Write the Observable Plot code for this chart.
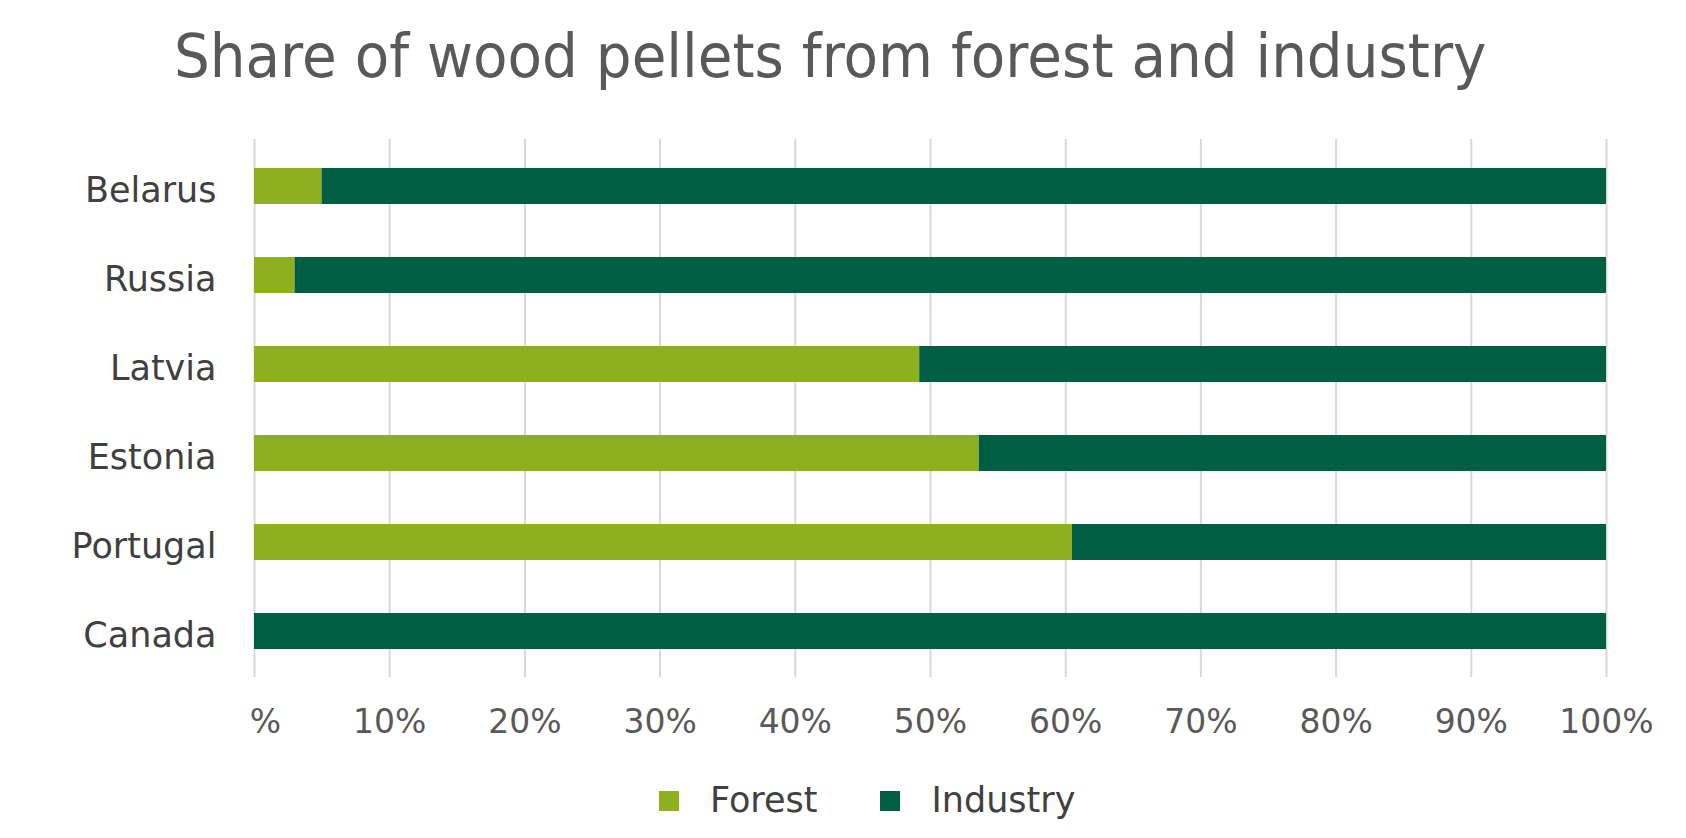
<!DOCTYPE html>
<html>
<head>
<meta charset="utf-8">
<script src="https://cdn.jsdelivr.net/npm/d3@7"></script>
<script src="https://cdn.jsdelivr.net/npm/@observablehq/plot@0.6"></script>
<style>
  html, body { margin: 0; padding: 0; background: #ffffff; }
  body { position: relative; width: 1686px; height: 838px; overflow: hidden; font-family: "DejaVu Sans", sans-serif; }
  #title { position: absolute; top: 26px; left: 174px; font-size: 60px; line-height: 1; color: #595959; white-space: nowrap; transform: scaleX(0.94); transform-origin: 0 0; }
  #chart { position: absolute; top: 120px; left: 0; }
  #legend { position: absolute; top: 760px; left: 659px; height: 78px; display: flex; align-items: flex-start; }
  .item { display: flex; align-items: center; height: 80px; margin-top: 0; }
  .sw { width: 20px; height: 20px; margin-right: 31px; margin-top: 1px; }
  .lab { font-size: 35px; line-height: 35px; color: #404040; margin-right: 63px; }
</style>
</head>
<body>
<div id="title">Share of wood pellets from forest and industry</div>
<div id="chart"></div>
<div id="legend"></div>
<script>
const countries = ["Belarus", "Russia", "Latvia", "Estonia", "Portugal", "Canada"];
const forest = [5, 3, 49.2, 53.6, 60.5, 0];
const industry = [95, 97, 50.8, 46.4, 39.5, 100];
const seriesNames = ["Forest", "Industry"];
const seriesColors = ["#8fb01e", "#005e42"];
const xTicks = [0, 10, 20, 30, 40, 50, 60, 70, 80, 90, 100];

const rows = [];
countries.forEach((c, i) => {
  rows.push({country: c, series: "Forest", value: forest[i]});
  rows.push({country: c, series: "Industry", value: industry[i]});
});

const chart = Plot.plot({
  width: 1686,
  height: 640,
  marginTop: 19,
  marginBottom: 83,
  marginLeft: 254,
  marginRight: 80,
  style: {fontFamily: "DejaVu Sans", background: "transparent"},
  x: {domain: [0, 100], label: null},
  y: {domain: countries, paddingInner: 0.6, paddingOuter: 0.3, label: null},
  color: {domain: seriesNames, range: seriesColors},
  marks: [
    Plot.gridX(xTicks, {stroke: "#d9d9d9", strokeOpacity: 1, strokeWidth: 2}),
    Plot.barX(rows, Plot.stackX({x: "value", y: "country", fill: "series", order: seriesNames})),
    Plot.axisX(xTicks.slice(1), {tickSize: 0, tickPadding: 32, tickFormat: d => d + "%", fontSize: 33, color: "#595959", label: null}),
    Plot.axisX([xTicks[0]], {tickSize: 0, tickPadding: 32, tickFormat: () => "%", dx: 11, fontSize: 33, color: "#595959", label: null}),
    Plot.axisY({tickSize: 0, tickPadding: 38, fontSize: 35, color: "#404040", dy: 4, label: null})
  ]
});
document.getElementById("chart").appendChild(chart);

const legend = document.getElementById("legend");
seriesNames.forEach((name, i) => {
  const item = document.createElement("div");
  item.className = "item";
  const sw = document.createElement("div");
  sw.className = "sw";
  sw.style.background = seriesColors[i];
  const lab = document.createElement("div");
  lab.className = "lab";
  lab.textContent = name;
  item.appendChild(sw);
  item.appendChild(lab);
  legend.appendChild(item);
});
</script>
</body>
</html>
